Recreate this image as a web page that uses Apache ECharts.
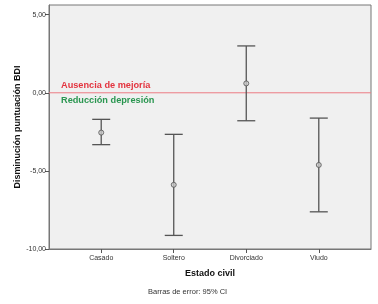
<!DOCTYPE html>
<html>
<head>
<meta charset="utf-8">
<script src="https://cdn.jsdelivr.net/npm/echarts@6/dist/echarts.min.js"></script>
<style>
  html, body { margin: 0; padding: 0; background: #fff; }
  #chart { width: 378px; height: 304px; }
</style>
</head>
<body>
<div id="chart"></div>
<script>
const categories = ['Casado', 'Soltero', 'Divorciado', 'Viudo']
const means = [-2.55, -5.89, 0.6, -4.62]
const lower = [-3.32, -9.13, -1.79, -7.62]
const upper = [-1.70, -2.66, 3.0, -1.62]
const yTicks = [-10, -5, 0, 5]
const refValue = 0
const refLabels = ['Ausencia de mejoría', 'Reducción depresión']

const fmt = v => v.toFixed(2).replace('.', ',')

const chart = echarts.init(document.getElementById('chart'))

const barData = categories.map((c, i) => [i, lower[i], upper[i]])
const meanData = categories.map((c, i) => [i, means[i]])

const option = {
  animation: false,
  textStyle: { fontFamily: 'Liberation Sans, Arial, sans-serif' },
  grid: {
    left: 49, right: 7, top: 5, bottom: 55,
    show: true, backgroundColor: '#f0f0f0',
    borderColor: '#777', borderWidth: 1
  },
  xAxis: {
    type: 'value',
    min: -0.72, max: 3.72,
    name: 'Estado civil',
    nameLocation: 'middle',
    nameGap: 20,
    nameTextStyle: { fontSize: 9, fontWeight: 'bold', color: '#111' },
    axisLine: { onZero: false, lineStyle: { color: '#777' } },
    splitLine: { show: false },
    axisTick: { customValues: [0, 1, 2, 3], length: 4, lineStyle: { color: '#555' } },
    axisLabel: {
      customValues: [0, 1, 2, 3],
      formatter: v => categories[Math.round(v)],
      fontSize: 7, color: '#333', margin: 6
    }
  },
  yAxis: {
    type: 'value',
    min: -10, max: 5.62,
    name: 'Disminución puntuación BDI',
    nameLocation: 'middle',
    nameGap: 27,
    nameMoveOverlap: false,
    nameTextStyle: { fontSize: 9, fontWeight: 'bold', color: '#111' },
    axisLine: { show: true, onZero: false, lineStyle: { color: '#777' } },
    splitLine: { show: false },
    axisTick: { show: true, customValues: yTicks, length: 4, lineStyle: { color: '#555' } },
    axisLabel: {
      customValues: yTicks,
      formatter: v => fmt(v),
      fontSize: 7, color: '#333', margin: 3
    }
  },
  series: [
    {
      type: 'custom',
      data: [[0, refValue]],
      z: 2,
      silent: true,
      renderItem: (params, api) => {
        const cs = params.coordSys
        const p = api.coord([0, api.value(1)])
        const font = 'bold 9.2px Liberation Sans, Arial, sans-serif'
        return {
          type: 'group',
          children: [
            { type: 'line', shape: { x1: cs.x, y1: p[1], x2: cs.x + cs.width, y2: p[1] },
              style: { stroke: '#ec7b84', lineWidth: 1 } },
            { type: 'text', x: cs.x + 12, y: p[1] - 3,
              style: { text: refLabels[0], font, fill: '#e3343f', verticalAlign: 'bottom' } },
            { type: 'text', x: cs.x + 12, y: p[1] + 3,
              style: { text: refLabels[1], font, fill: '#2a9650', verticalAlign: 'top' } }
          ]
        }
      }
    },
    {
      type: 'custom',
      data: barData,
      z: 3,
      renderItem: (params, api) => {
        const x = api.value(0)
        const lo = api.coord([x, api.value(1)])
        const hi = api.coord([x, api.value(2)])
        const hw = 9
        const style = { stroke: '#555', lineWidth: 1.3 }
        return {
          type: 'group',
          children: [
            { type: 'line', shape: { x1: lo[0], y1: lo[1], x2: hi[0], y2: hi[1] }, style },
            { type: 'line', shape: { x1: lo[0] - hw, y1: lo[1], x2: lo[0] + hw, y2: lo[1] }, style },
            { type: 'line', shape: { x1: hi[0] - hw, y1: hi[1], x2: hi[0] + hw, y2: hi[1] }, style }
          ]
        }
      }
    },
    {
      type: 'scatter',
      data: meanData,
      z: 4,
      symbol: 'circle',
      symbolSize: 5,
      itemStyle: { color: '#c8c8c8', borderColor: '#555', borderWidth: 1 }
    }
  ],
  graphic: [
    {
      type: 'text', left: 148, top: 288,
      style: { text: 'Barras de error: 95% CI', fontSize: 7.5, fill: '#333', fontFamily: 'Liberation Sans, Arial, sans-serif' }
    }
  ]
}

chart.setOption(option)
</script>
</body>
</html>
